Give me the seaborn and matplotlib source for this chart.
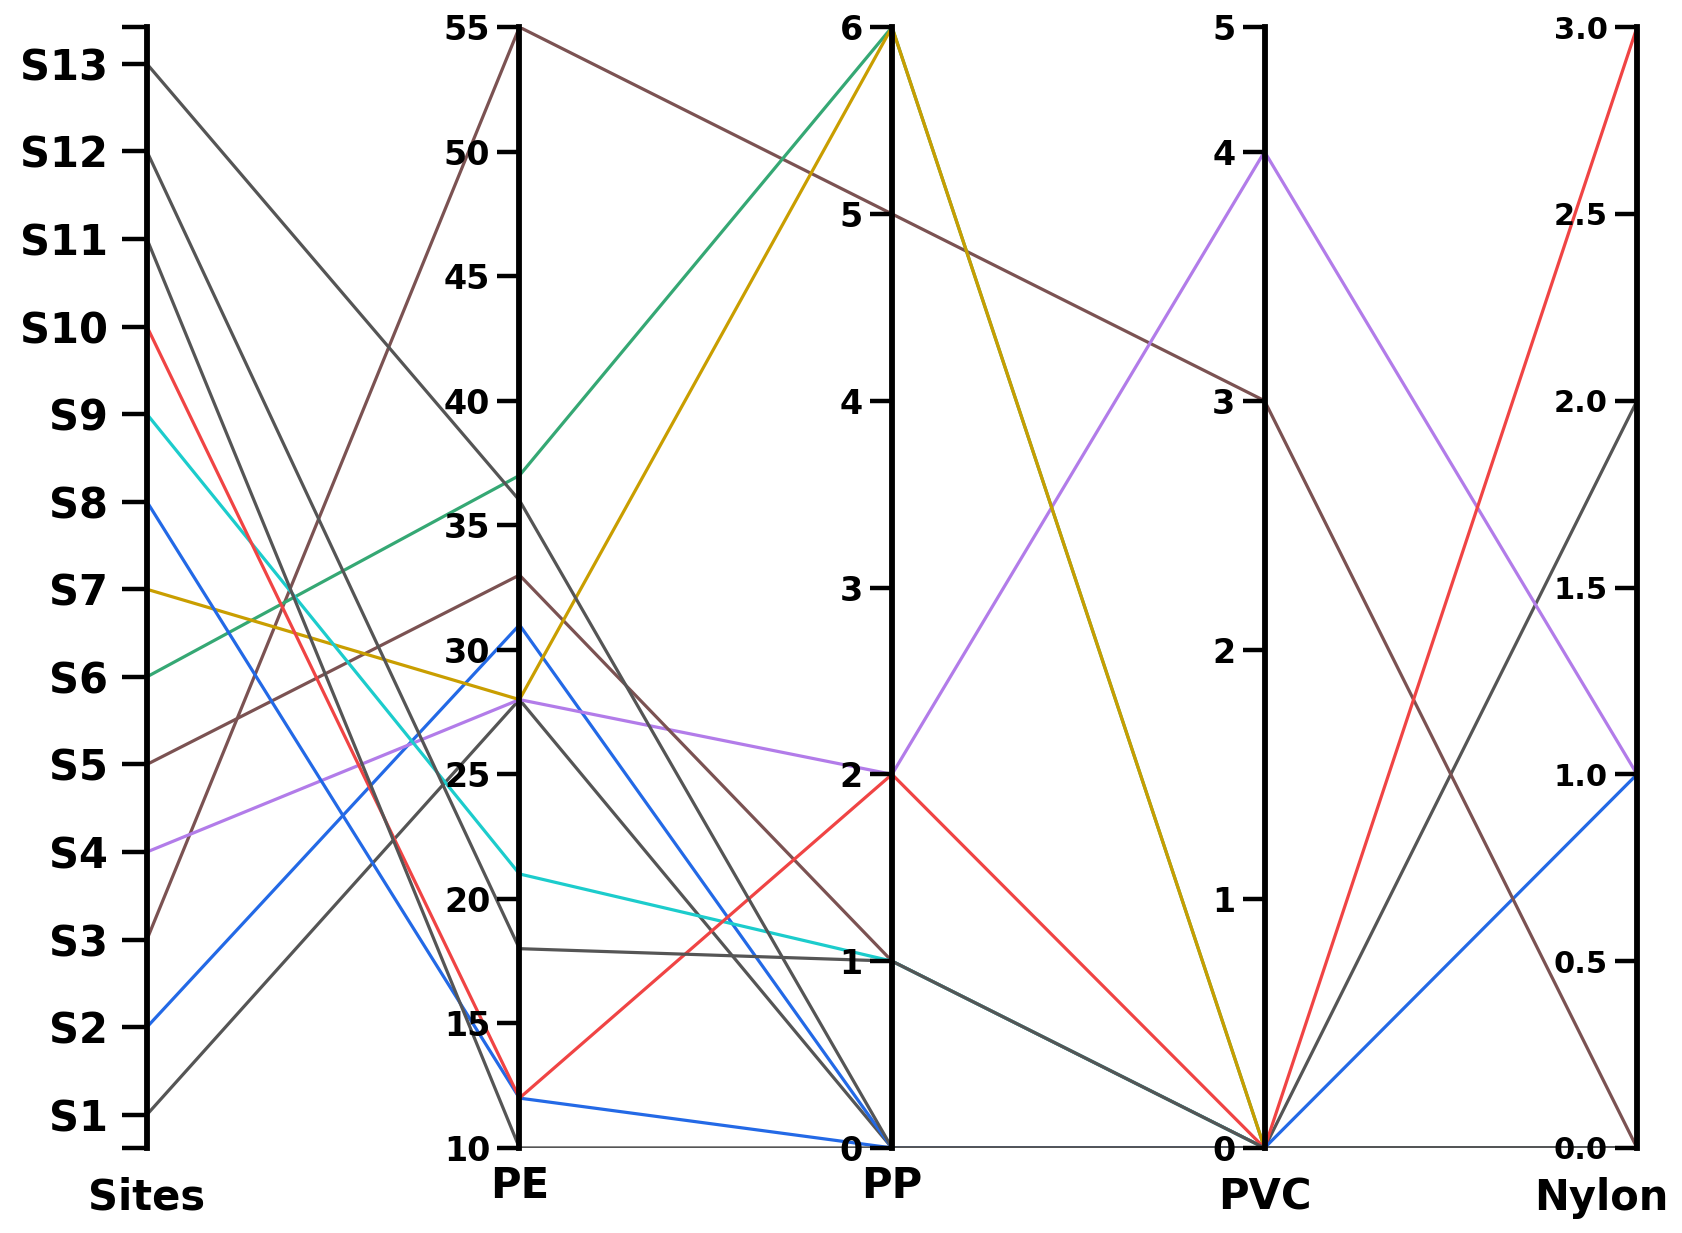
import numpy as np
import pandas as pd
import matplotlib
matplotlib.use("Agg")
import matplotlib.pyplot as plt
import seaborn as sns

sites = ["S1", "S2", "S3", "S4", "S5", "S6", "S7", "S8", "S9", "S10", "S11", "S12", "S13"]
pe = [28, 31, 55, 28, 33, 37, 28, 12, 21, 12, 10, 18, 36]
pp = [0, 0, 5, 2, 1, 6, 6, 0, 1, 2, 0, 1, 0]
pvc = [0, 0, 3, 4, 0, 0, 0, 0, 0, 0, 0, 0, 0]
nylon = [2, 1, 0, 1, 0, 0, 0, 0, 0, 3, 0, 0, 0]

axis_names = ["Sites", "PE", "PP", "PVC", "Nylon"]
# the PVC axis in the source stops at 4.5 but its end tick reads "5"
axis_ranges = [(0.62, 13.42), (10, 55), (0, 6), (0, 4.5), (0, 3)]
axis_ticks = [[0.62] + list(range(1, 14)) + [13.42],
              list(range(10, 56, 5)),
              list(range(0, 7)),
              [0, 1, 2, 3, 4, 4.5],
              [0, 0.5, 1, 1.5, 2, 2.5, 3]]
axis_labels = [[""] + sites + [""],
               [str(t) for t in range(10, 56, 5)],
               [str(t) for t in range(0, 7)],
               ["0", "1", "2", "3", "4", "5"],
               ["0.0", "0.5", "1.0", "1.5", "2.0", "2.5", "3.0"]]

site_colors = ["#555555", "#2369e6", "#7b5252", "#b27ce9", "#7b5252", "#35a874",
               "#c99e00", "#2369e6", "#1ccccc", "#f04444", "#555555", "#555555", "#555555"]

sns.set_theme(style="white")
plt.rcParams["font.family"] = ["DejaVu Sans"]
plt.rcParams["font.weight"] = "bold"

df = pd.DataFrame({"Site": sites, "Sites": np.arange(1, 14), "PE": pe, "PP": pp, "PVC": pvc, "Nylon": nylon})
long = df.melt(id_vars="Site", value_vars=axis_names, var_name="axis", value_name="value")
long["pos"] = long["axis"].map({n: i for i, n in enumerate(axis_names)})
lo = long["axis"].map({n: r[0] for n, r in zip(axis_names, axis_ranges)})
hi = long["axis"].map({n: r[1] for n, r in zip(axis_names, axis_ranges)})
long["norm"] = (long["value"] - lo) / (hi - lo)

fig = plt.figure(figsize=(16.83, 12.33), dpi=100)
ax = fig.add_axes([0.0873, 0.069, 0.8854, 0.909])
sns.lineplot(data=long, x="pos", y="norm", hue="Site", hue_order=sites,
             palette=dict(zip(sites, site_colors)), estimator=None, sort=False,
             linewidth=2.3, legend=False, ax=ax)
ax.set_xlim(0, 4)
ax.set_ylim(0, 1)
ax.axis("off")

label_sizes = [30, 24, 24, 24, 22]
tick_len = [18, 16, 16, 16, 16]
tick_pad = [10, 5, 5, 5, 5]
title_offsets = [-50, -38, -38, -50, -50]
title_dx = [0, 0, 0, 0, -36]
for i, name in enumerate(axis_names):
    sub = ax.inset_axes([i / 4, 0, 1e-5, 1])
    sub.patch.set_visible(False)
    for s in ["top", "right", "bottom"]:
        sub.spines[s].set_visible(False)
    sub.spines["left"].set_linewidth(4.2)
    sub.spines["left"].set_color("black")
    sub.set_xticks([])
    sub.set_ylim(*axis_ranges[i])
    sub.set_yticks(axis_ticks[i])
    sub.set_yticklabels(axis_labels[i])
    sub.tick_params(axis="y", left=True, direction="out", length=tick_len[i], width=3.2,
                    pad=tick_pad[i], labelsize=label_sizes[i], color="black", labelcolor="black")
    for lab in sub.get_yticklabels():
        lab.set_fontweight("bold")
    ax.annotate(name, xy=(i, 0), xycoords="data", xytext=(title_dx[i] * 0.72, title_offsets[i] * 0.72),
                textcoords="offset points", ha="center", va="center",
                fontsize=30, fontweight="bold", color="black")

fig.savefig("out.png", dpi=100)
